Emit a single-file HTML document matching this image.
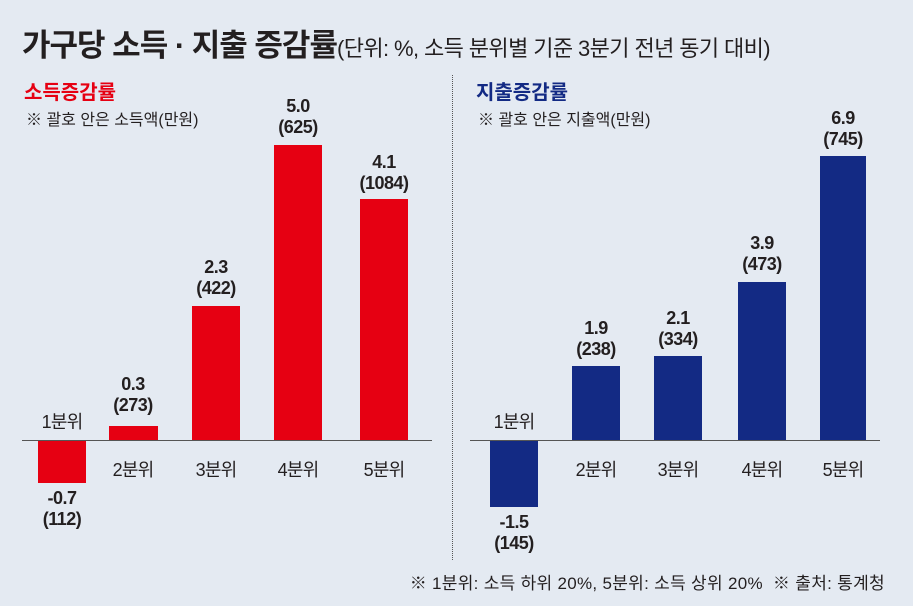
<!DOCTYPE html>
<html><head><meta charset="utf-8"><style>
body{margin:0;width:913px;height:606px;background:#e4eaf2;font-family:"Liberation Sans","Noto Sans CJK KR",sans-serif;overflow:hidden;position:relative;color:#231f20}
.a{position:absolute;white-space:nowrap}
.t{text-align:center;width:80px;font-weight:bold;font-size:18px;line-height:21px;letter-spacing:-0.5px}
.c{text-align:center;width:80px;font-size:18px;letter-spacing:-0.8px}
.r{background:#e60012;position:absolute}
.b{background:#132a84;position:absolute}
</style></head><body>
<div class="a" style="left:22px;top:20px;font-size:31px;font-weight:bold;letter-spacing:-1px">가구당 소득 · 지출 증감률<span style="font-size:22px;font-weight:normal;letter-spacing:-0.6px">(단위: %, 소득 분위별 기준 3분기 전년 동기 대비)</span></div>
<div class="a" style="left:24px;top:76px;font-size:20px;font-weight:bold;color:#e60012">소득증감률</div>
<div class="a" style="left:26px;top:106px;font-size:16px">※ 괄호 안은 소득액(만원)</div>
<div class="a" style="left:476px;top:76px;font-size:20px;font-weight:bold;color:#132a84">지출증감률</div>
<div class="a" style="left:478px;top:106px;font-size:16px">※ 괄호 안은 지출액(만원)</div>
<div class="a" style="left:452px;top:75px;height:485px;border-left:1px dotted #555"></div>
<div class="a" style="left:22px;top:440px;width:410px;border-top:1px solid #555"></div>
<div class="a" style="left:470px;top:440px;width:410px;border-top:1px solid #555"></div>
<div class="r" style="left:38px;top:441px;width:48px;height:42px"></div>
<div class="r" style="left:109px;top:426px;width:49px;height:14px"></div>
<div class="r" style="left:192px;top:306px;width:48px;height:134px"></div>
<div class="r" style="left:274px;top:145px;width:48px;height:295px"></div>
<div class="r" style="left:360px;top:199px;width:48px;height:241px"></div>
<div class="a c" style="left:22px;top:408px">1분위</div>
<div class="a t" style="left:22px;top:488px">-0.7<br>(112)</div>
<div class="a t" style="left:93px;top:374px">0.3<br>(273)</div>
<div class="a c" style="left:93px;top:456px">2분위</div>
<div class="a t" style="left:176px;top:257px">2.3<br>(422)</div>
<div class="a c" style="left:176px;top:456px">3분위</div>
<div class="a t" style="left:258px;top:96px">5.0<br>(625)</div>
<div class="a c" style="left:258px;top:456px">4분위</div>
<div class="a t" style="left:344px;top:152px">4.1<br>(1084)</div>
<div class="a c" style="left:344px;top:456px">5분위</div>
<div class="b" style="left:490px;top:441px;width:48px;height:66px"></div>
<div class="b" style="left:572px;top:366px;width:48px;height:74px"></div>
<div class="b" style="left:654px;top:356px;width:48px;height:84px"></div>
<div class="b" style="left:738px;top:282px;width:48px;height:158px"></div>
<div class="b" style="left:820px;top:156px;width:46px;height:284px"></div>
<div class="a c" style="left:474px;top:408px">1분위</div>
<div class="a t" style="left:474px;top:512px">-1.5<br>(145)</div>
<div class="a t" style="left:556px;top:318px">1.9<br>(238)</div>
<div class="a c" style="left:556px;top:456px">2분위</div>
<div class="a t" style="left:638px;top:308px">2.1<br>(334)</div>
<div class="a c" style="left:638px;top:456px">3분위</div>
<div class="a t" style="left:722px;top:233px">3.9<br>(473)</div>
<div class="a c" style="left:722px;top:456px">4분위</div>
<div class="a t" style="left:803px;top:108px">6.9<br>(745)</div>
<div class="a c" style="left:803px;top:456px">5분위</div>
<div class="a" style="right:28px;top:569px;font-size:17px;letter-spacing:0.3px">※ 1분위: 소득 하위 20%, 5분위: 소득 상위 20% &nbsp;※ 출처: 통계청</div>
</body></html>
